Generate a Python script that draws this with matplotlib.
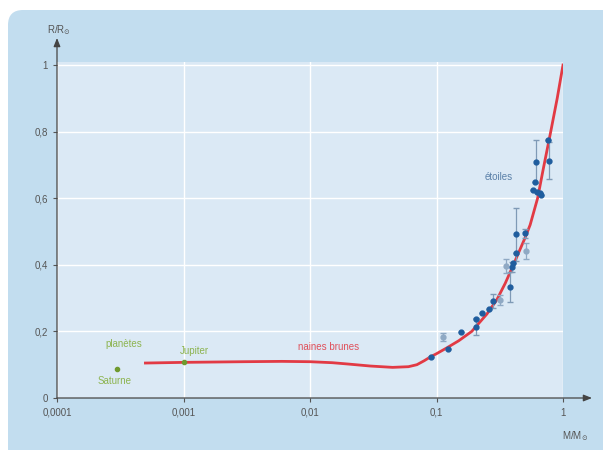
import matplotlib.pyplot as plt
from matplotlib.patches import FancyBboxPatch
import numpy as np

plt.rcParams['font.family'] = ['Liberation Sans', 'DejaVu Sans']

# red mass-radius curve
curve_m = [0.0005, 0.001, 0.003, 0.006, 0.01, 0.015, 0.02, 0.03, 0.045, 0.06,
           0.07, 0.08, 0.09, 0.1, 0.12, 0.15, 0.19, 0.25, 0.3, 0.35, 0.41,
           0.45, 0.5, 0.55, 0.63, 0.7, 0.8, 0.9, 1.0]
curve_r = [0.105, 0.107, 0.109, 0.110, 0.109, 0.106, 0.102, 0.096, 0.092, 0.094,
           0.100, 0.112, 0.124, 0.133, 0.150, 0.172, 0.200, 0.252, 0.295, 0.345, 0.404,
           0.440, 0.480, 0.520, 0.600, 0.690, 0.800, 0.900, 1.0]

# stars (dark blue)
star_m = [0.090, 0.123, 0.156, 0.205, 0.207, 0.228, 0.261, 0.278, 0.381, 0.392,
          0.400, 0.425, 0.425, 0.501, 0.582, 0.601, 0.612, 0.620, 0.658, 0.670,
          0.757, 0.780]
star_r = [0.122, 0.146, 0.199, 0.214, 0.236, 0.254, 0.266, 0.291, 0.334, 0.394,
          0.404, 0.434, 0.492, 0.494, 0.625, 0.650, 0.710, 0.620, 0.615, 0.610,
          0.775, 0.713]
star_err = [0, 0, 0, 0.025, 0, 0, 0, 0.02, 0.045, 0.015,
            0, 0, 0.08, 0.015, 0, 0, 0.065, 0, 0, 0,
            0, 0.055]

# stars (lighter markers)
light_m = [0.113, 0.318, 0.354, 0.511]
light_r = [0.184, 0.294, 0.396, 0.441]
light_err = [0.012, 0.015, 0.02, 0.025]

# planets
planet_m = [0.0003, 0.001]
planet_r = [0.087, 0.107]

xticks = [0.0001, 0.001, 0.01, 0.1, 1]
xlabels = ['0,0001', '0,001', '0,01', '0,1', '1']
yticks = [0, 0.2, 0.4, 0.6, 0.8, 1]
ylabels = ['0', '0,2', '0,4', '0,6', '0,8', '1']

W, H = 603, 450
fig = plt.figure(figsize=(6.03, 4.5), dpi=100)
fig.patch.set_facecolor('white')

bg = FancyBboxPatch((8 / W, -0.2), 1.2, (H - 10) / H + 0.2,
                    boxstyle='round,pad=0,rounding_size=0.025',
                    mutation_aspect=W / H,
                    transform=fig.transFigure, facecolor='#c2ddef',
                    edgecolor='none', zorder=-10)
fig.add_artist(bg)

ax = fig.add_axes([57 / W, (H - 398) / H, (563 - 57) / W, 1.01 * 333 / H])
ax.set_facecolor('#dbe9f5')
ax.set_xscale('log')
ax.set_xlim(1e-4, 1)
ax.set_ylim(0, 1.01)

for s in ax.spines.values():
    s.set_visible(False)

ax.grid(True, color='white', lw=1.0)
ax.minorticks_off()
ax.set_xticks(xticks)
ax.set_xticklabels(xlabels)
ax.set_yticks(yticks)
ax.set_yticklabels(ylabels)
ax.tick_params(colors='#555555', labelsize=7, length=3, width=0.8,
               labelcolor='#555555')
ax.tick_params(axis='x', pad=4)

ax.plot(curve_m, curve_r, color='#e23a44', lw=2.0, zorder=3)

ax.errorbar(light_m, light_r, yerr=light_err, fmt='o', ms=3.5,
            color='#8fa9c4', ecolor='#8fa9c4', elinewidth=0.9, capsize=2,
            zorder=4)
ax.errorbar(star_m, star_r, yerr=star_err, fmt='o', ms=3.5,
            color='#1f5d9e', ecolor='#7f9ab6', elinewidth=0.9, capsize=2,
            zorder=5)
ax.plot(planet_m, planet_r, 'o', ms=3, color='#6f9a2e', zorder=6)

txt = dict(fontsize=7, ha='center', va='center')
ax.text(0.000336, 0.162, 'planètes', color='#8db450', **txt)
ax.text(0.000286, 0.052, 'Saturne', color='#8db450', **txt)
ax.text(0.00121, 0.141, 'Jupiter', color='#8db450', **txt)
ax.text(0.0141, 0.154, 'naines brunes', color='#e0505a', **txt)
ax.text(0.31, 0.663, 'étoiles', color='#5a80a8', **txt)

# axis arrows
arrow = dict(arrowstyle='-|>,head_length=0.5,head_width=0.2', color='#444444',
             lw=0.9, shrinkA=0, shrinkB=0)
ax.annotate('', xy=(57 / W, (H - 38) / H), xytext=(57 / W, (H - 398) / H),
            xycoords='figure fraction', textcoords='figure fraction',
            arrowprops=arrow)
ax.annotate('', xy=(592 / W, (H - 398) / H), xytext=(57 / W, (H - 398) / H),
            xycoords='figure fraction', textcoords='figure fraction',
            arrowprops=arrow)

fig.text(59 / W, (H - 30) / H, r'R/R$_{\odot}$', fontsize=7, color='#555555',
         ha='center', va='center')
fig.text(575 / W, (H - 436) / H, r'M/M$_{\odot}$', fontsize=7, color='#555555',
         ha='center', va='center')

fig.savefig('out.png', dpi=100, facecolor=fig.get_facecolor())
